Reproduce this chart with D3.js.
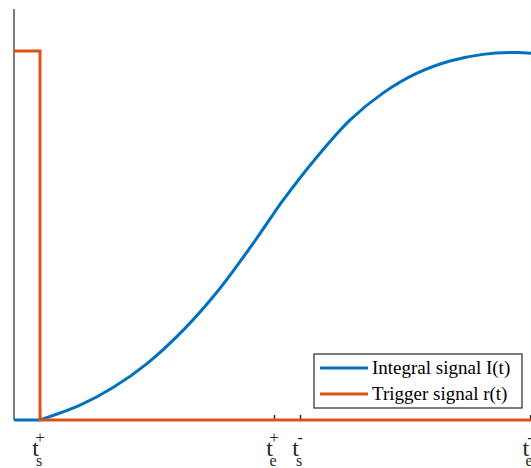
<!DOCTYPE html>
<html>
<head>
<meta charset="utf-8">
<script src="https://cdn.jsdelivr.net/npm/d3@7"></script>
<style>
  html, body { margin: 0; padding: 0; background: #fff; }
  svg { display: block; font-family: "Liberation Serif", "Times New Roman", serif; }
</style>
</head>
<body>
<svg id="chart" width="531" height="468"></svg>
<script>
// Time samples (arbitrary units) and signal levels
const integralT = [0, 1, 2.54, 3.81, 5.115, 6.5, 7.81, 9.08, 10, 10.35, 11.65, 12.92, 14.19, 15.5, 16.77, 18.04, 19.35, 20.2];
const integralV = [0, 0, 0.040, 0.088, 0.153, 0.243, 0.347, 0.467, 0.561, 0.596, 0.713, 0.813, 0.886, 0.940, 0.973, 0.991, 0.996, 0.992];

const triggerT = [0, 1, 1, 20.2];
const triggerV = [1, 1, 0, 0];

// Tick positions and their labels: base, subscript, superscript
const tickValues = [1, 10, 11, 19.85];
const tickSub = ["s", "e", "s", "e"];
const tickSup = ["+", "+", "-", "-"];

const seriesNames = ["Integral signal I(t)", "Trigger signal r(t)"];
const seriesColors = ["#0072BD", "#D95319"];

const serif = "'Liberation Serif', 'Times New Roman', serif";
const svg = d3.select("#chart");

const x = d3.scaleLinear().domain([0, 20]).range([14, 534]);
const y = d3.scaleLinear().domain([0, 1.114]).range([420, 9]);

// Left axis line (no ticks)
svg.append("line")
  .attr("x1", x(0)).attr("x2", x(0))
  .attr("y1", y.range()[1]).attr("y2", y(0))
  .attr("stroke", "#262626").attr("stroke-width", 1.2);

// Bottom axis with inward ticks
const xAxis = d3.axisBottom(x)
  .tickValues(tickValues)
  .tickSizeInner(-5)
  .tickSizeOuter(0)
  .tickFormat("");

const gx = svg.append("g")
  .attr("transform", `translate(0,${y(0)})`)
  .call(xAxis)
  .attr("font-family", serif);
gx.select(".domain").attr("stroke", "#262626").attr("stroke-width", 1.2);
gx.selectAll(".tick line").attr("stroke", "#262626").attr("stroke-width", 1.5);

// Tick labels with sub/superscripts
gx.selectAll(".tick").each(function(d, i) {
  const g = d3.select(this);
  g.append("text")
    .attr("x", -1.5).attr("y", 36)
    .attr("text-anchor", "end")
    .attr("font-family", serif)
    .attr("font-size", 24)
    .attr("fill", "#262626")
    .text("t");
  g.append("text")
    .attr("x", -0.5).attr("y", 23)
    .attr("font-family", serif)
    .attr("font-size", 17)
    .attr("fill", "#262626")
    .text(tickSup[i]);
  g.append("text")
    .attr("x", -1.5).attr("y", 46)
    .attr("font-family", serif)
    .attr("font-size", 16)
    .attr("fill", "#262626")
    .text(tickSub[i]);
});

// Series
const integral = integralT.map((t, i) => [t, integralV[i]]);
const trigger = triggerT.map((t, i) => [t, triggerV[i]]);
const idle = integral.filter(d => d[0] <= 1);
const rising = integral.filter(d => d[0] >= 1);

svg.append("path")
  .datum(idle)
  .attr("fill", "none")
  .attr("stroke", seriesColors[0])
  .attr("stroke-width", 3)
  .attr("d", d3.line().x(d => x(d[0])).y(d => y(d[1])));

svg.append("path")
  .datum(rising)
  .attr("fill", "none")
  .attr("stroke", seriesColors[0])
  .attr("stroke-width", 3)
  .attr("d", d3.line().x(d => x(d[0])).y(d => y(d[1])).curve(d3.curveCatmullRom.alpha(0.5)));

svg.append("path")
  .datum(trigger)
  .attr("fill", "none")
  .attr("stroke", seriesColors[1])
  .attr("stroke-width", 3)
  .attr("stroke-linejoin", "miter")
  .attr("d", d3.line().x(d => x(d[0])).y(d => y(d[1])));

// Legend
const legend = svg.append("g").attr("transform", "translate(314,354)");
legend.append("rect")
  .attr("x", 0).attr("y", 0).attr("width", 208).attr("height", 54)
  .attr("fill", "#fff").attr("stroke", "#262626").attr("stroke-width", 1.2);
seriesNames.forEach((name, i) => {
  const yy = 14 + i * 26;
  legend.append("line")
    .attr("x1", 6).attr("x2", 54).attr("y1", yy).attr("y2", yy)
    .attr("stroke", seriesColors[i]).attr("stroke-width", 3);
  legend.append("text")
    .attr("x", 58).attr("y", yy + 6)
    .attr("font-family", serif)
    .attr("font-size", 19)
    .attr("fill", "#000")
    .text(name);
});
</script>
</body>
</html>
